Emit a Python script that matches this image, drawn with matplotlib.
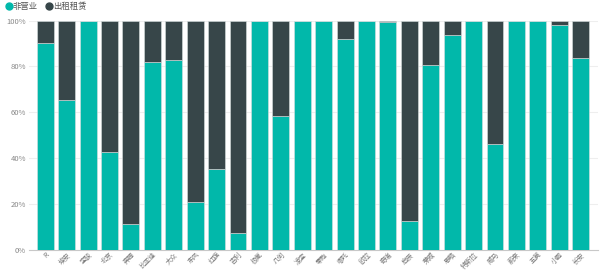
import matplotlib
matplotlib.use('Agg')
from matplotlib import pyplot as plt
from matplotlib.lines import Line2D

plt.rcParams['font.family'] = ['Noto Sans CJK SC', 'DejaVu Sans']

# brands and share of "非营业" (percent); the rest is "出租租赁"
brands = ['R', '埃安', '宝骏', '北京', '奔腾', '比亚迪', '大众', '东风', '红旗', '吉利',
          '极氪', '几何', '凌宝', '零跑', '哪吒', '欧拉', '奇瑞', '启辰', '荣威', '思皓',
          '特斯拉', '威马', '蔚来', '五菱', '小鹏', '长安']
non_op = [90.2, 65.5, 100, 42.9, 11.2, 81.9, 82.9, 20.9, 35.4, 7.3,
          100, 58.3, 100, 100, 91.9, 100, 99.4, 12.6, 80.6, 93.5,
          100, 46.3, 100, 100, 98.1, 83.9]
rental = [100 - v for v in non_op]

teal = '#01B8AA'
dark = '#374649'

fig = plt.figure(figsize=(6, 2.71), dpi=100)
ax = fig.add_axes([0.048, 0.078, 0.949, 0.846])

x = range(len(brands))
ax.bar(x, non_op, width=0.79, color=teal, edgecolor='#d8e0e0', linewidth=0.4, zorder=3)
ax.bar(x, rental, width=0.79, bottom=non_op, color=dark, edgecolor='#d8e0e0',
       linewidth=0.4, zorder=3)

ax.set_xlim(-0.77, 25.82)
ax.set_ylim(0, 100)
ax.set_yticks([0, 20, 40, 60, 80, 100])
ax.set_yticklabels(['0%', '20%', '40%', '60%', '80%', '100%'])
ax.set_xticks(list(x))
ax.set_xticklabels(brands, rotation=45, ha='right', rotation_mode='anchor')
ax.tick_params(axis='y', length=0, labelsize=5.5, colors='#888888', pad=2)
ax.tick_params(axis='x', length=0, labelsize=4.8, colors='#777777', pad=0.5)
ax.grid(axis='y', color='#eeeeee', linewidth=0.8, zorder=0)
for s in ['top', 'right', 'left']:
    ax.spines[s].set_visible(False)
ax.spines['bottom'].set_color('#c8c8c8')

handles = [Line2D([], [], marker='o', color='none', markerfacecolor=teal,
                  markeredgecolor=teal, markersize=5),
           Line2D([], [], marker='o', color='none', markerfacecolor=dark,
                  markeredgecolor=dark, markersize=5)]
fig.legend(handles, ['非营业', '出租租赁'], loc='upper left', bbox_to_anchor=(-0.005, 1.02),
           ncol=2, frameon=False, fontsize=6, handletextpad=0.0, columnspacing=0.8,
           handlelength=1.0, labelcolor='#555555')

fig.savefig('out.png', dpi=100)
